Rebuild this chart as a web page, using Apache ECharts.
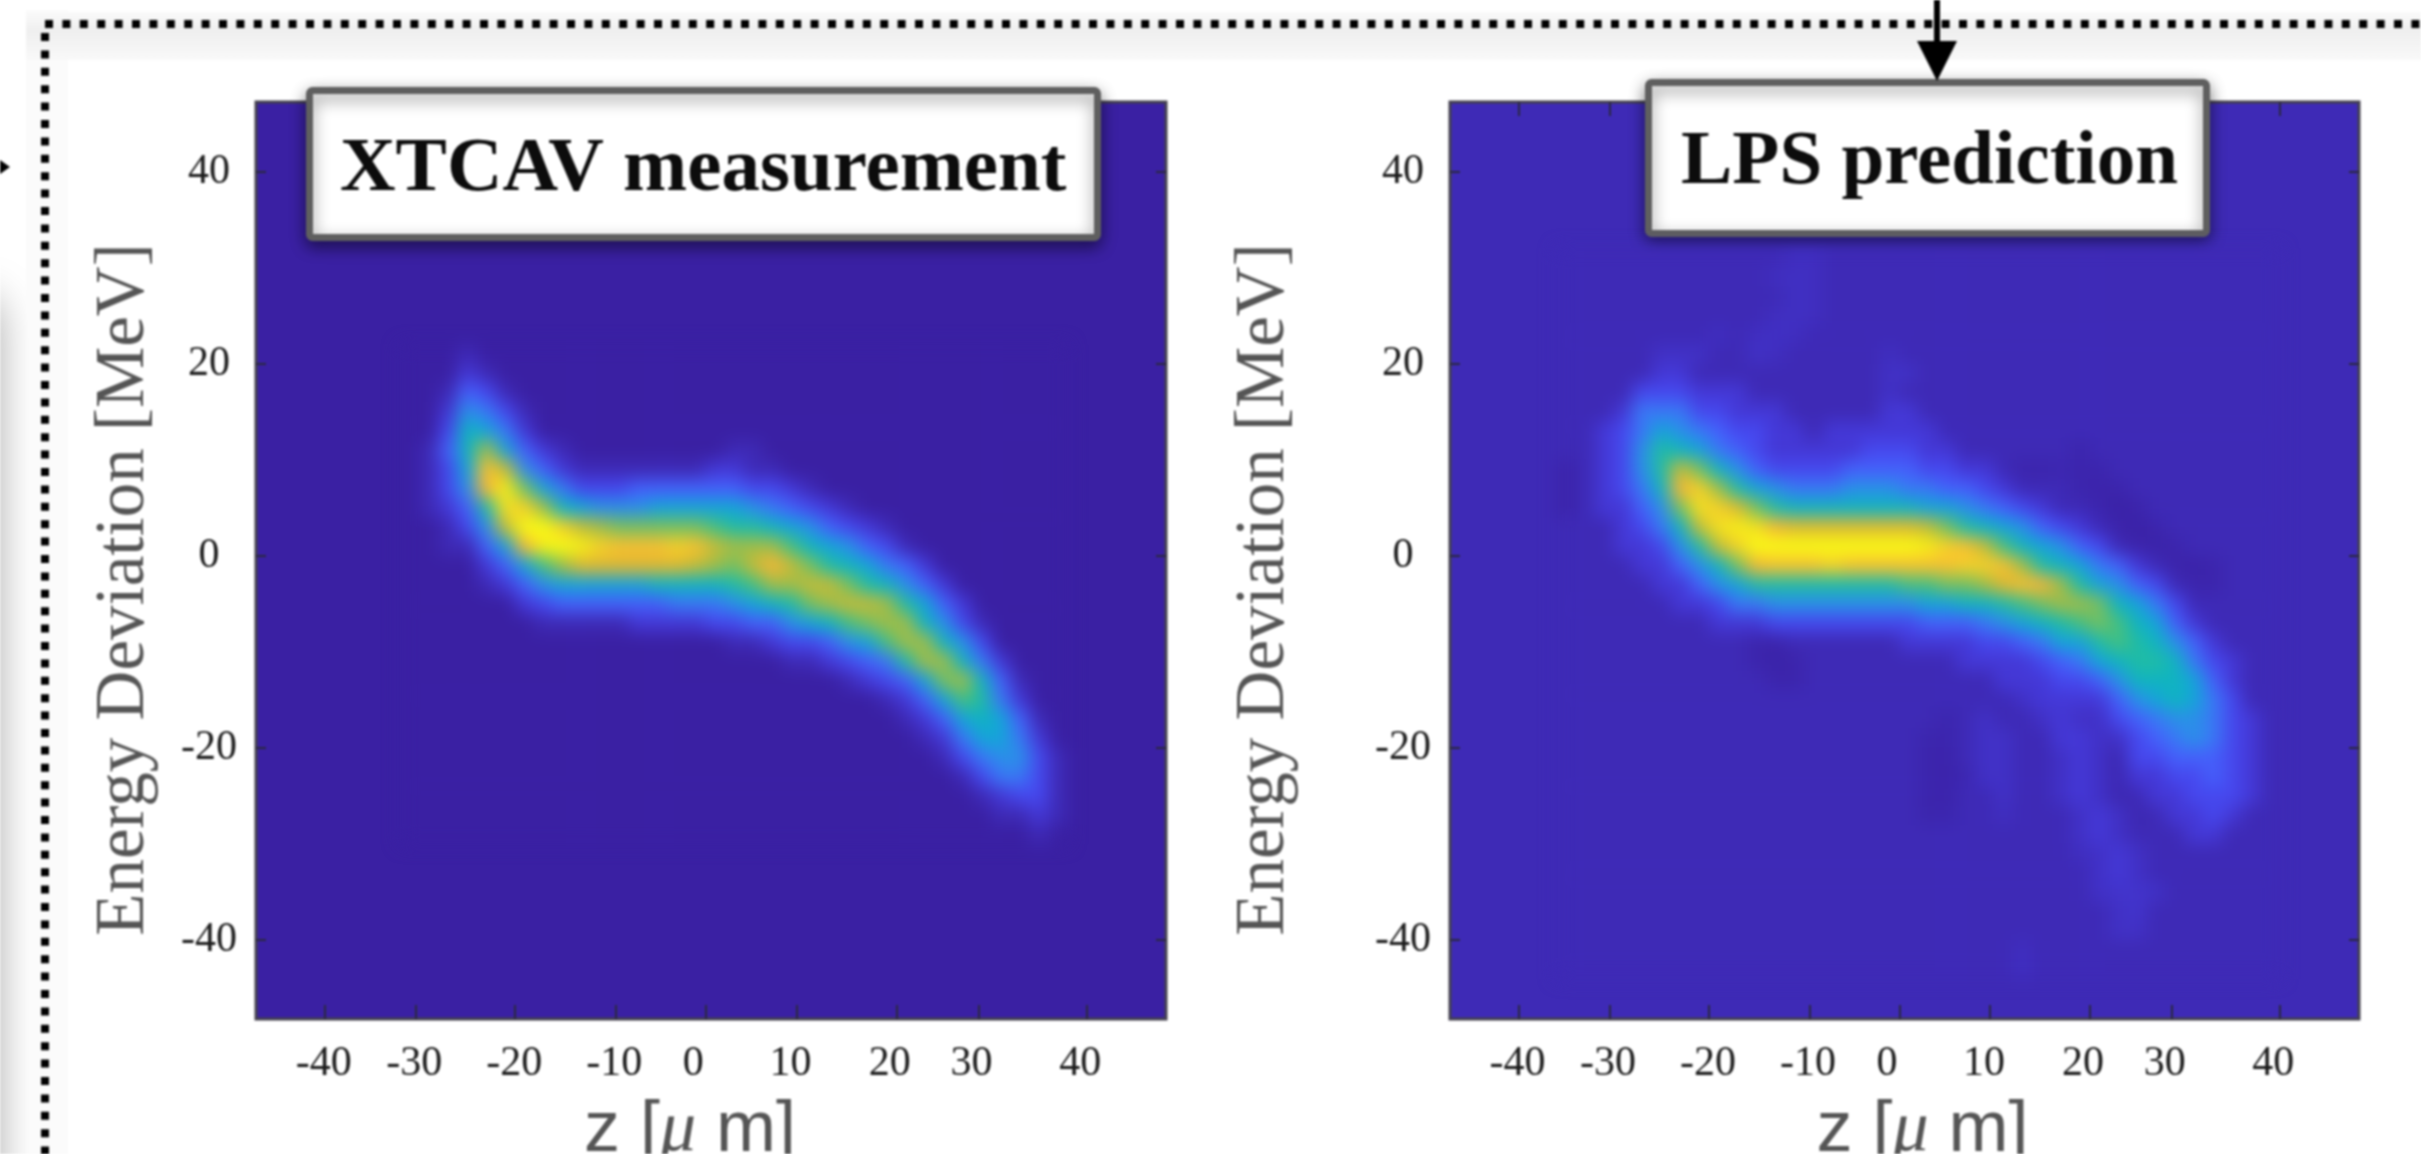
<!DOCTYPE html>
<html><head><meta charset="utf-8">
<script src="https://cdn.jsdelivr.net/npm/echarts@6/dist/echarts.min.js"></script>
<style>
html,body{margin:0;padding:0;background:#fff;overflow:hidden}
#main,#heat{position:absolute;left:0;top:0;width:2421px;height:1154px}
#main{filter:blur(0.9px)}
#heat{filter:blur(8.5px);pointer-events:none}
</style></head><body>
<div id="main"></div><div id="heat"></div>
<script>
// axis ticks: printed labels and where the ticks actually sit on the z axis
const zTickLabels = ['-40','-30','-20','-10','0','10','20','30','40'];
const zTickValues = [-40,-30.4,-20,-9.4,0,9.5,20,28.6,40];
const zLabelValues = [-40.1,-30.6,-20.1,-9.6,-1.3,8.9,19.3,27.9,39.3];
const eTickValues = [-40,-20,0,20,40];

// level scale, 0 (darkest) .. 20 (yellow)
const levelColors = ['#3a20a3','#3e2ab6','#4438d6','#4648ee','#4560fb','#3a78f5','#2a90e8','#15a5d8','#10b4c0','#20bca5','#45c080','#75c060','#a0bd48','#c4bb38','#e0b830','#f8b535','#f8c030','#f6d028','#f5e020','#f6ee18','#f8fa15'];

// XTCAV measurement panel
const xtcavZ = [-31,-29,-27,-25,-23,-21,-19,-17,-15,-13,-11,-9,-7,-5,-3,-1,1,3,5,7,9,11,13,15,17,19,21,23,25,27,29,31,33,35,37];
const xtcavE = [21,19,17,15,13,11,9,7,5,3,1,-1,-3,-5,-7,-9,-11,-13,-15,-17,-19,-21,-23,-25,-27,-29];
const xtcavLevels = [
[0,0,0,1,0,0,0,0,0,0,0,0,0,0,0,0,0,0,0,0,0,0,0,0,0,0,0,0,0,0,0,0,0,0,0],
[0,0,0,2,1,0,0,0,0,0,0,0,0,0,0,0,0,0,0,0,0,0,0,0,0,0,0,0,0,0,0,0,0,0,0],
[0,0,1,4,3,1,0,0,0,0,0,0,0,0,0,0,0,0,0,0,0,0,0,0,0,0,0,0,0,0,0,0,0,0,0],
[0,0,2,6,5,3,1,0,0,0,0,0,0,0,0,0,0,0,0,0,0,0,0,0,0,0,0,0,0,0,0,0,0,0,0],
[0,0,3,8,7,5,2,0,0,0,0,0,0,0,0,0,0,0,0,0,0,0,0,0,0,0,0,0,0,0,0,0,0,0,0],
[0,1,4,8,12,7,4,2,1,0,0,0,0,0,0,0,0,1,1,0,0,0,0,0,0,0,0,0,0,0,0,0,0,0,0],
[0,1,3,7,16,13,6,4,2,1,1,1,1,1,1,1,2,2,1,1,0,0,0,0,0,0,0,0,0,0,0,0,0,0,0],
[0,1,3,6,15,19,11,7,5,3,3,3,4,4,4,4,4,4,3,3,2,1,0,0,0,0,0,0,0,0,0,0,0,0,0],
[0,1,2,4,9,18,17,12,8,7,6,6,6,7,7,7,7,7,6,5,4,3,2,1,0,0,0,0,0,0,0,0,0,0,0],
[0,0,1,3,6,13,20,20,17,13,12,11,11,11,11,11,10,9,9,8,7,6,4,3,2,1,0,0,0,0,0,0,0,0,0],
[0,0,1,1,4,7,15,19,20,19,17,16,16,16,17,16,13,12,12,12,10,8,7,6,4,3,1,0,0,0,0,0,0,0,0],
[0,0,0,0,2,4,7,10,12,14,14,14,14,14,14,13,12,11,13,15,13,11,9,8,7,5,4,2,0,0,0,0,0,0,0],
[0,0,0,0,1,2,4,6,7,7,7,7,7,8,8,8,8,9,10,12,12,13,13,11,9,8,6,4,2,0,0,0,0,0,0],
[0,0,0,0,0,0,2,3,4,4,4,4,4,4,5,5,5,6,7,8,9,11,12,13,13,12,9,7,4,2,0,0,0,0,0],
[0,0,0,0,0,0,0,1,1,1,1,1,2,2,2,2,3,3,4,4,6,7,8,10,11,12,12,8,6,3,1,0,0,0,0],
[0,0,0,0,0,0,0,0,0,0,0,0,0,0,0,0,0,1,1,2,3,3,4,6,7,10,12,12,8,6,3,0,0,0,0],
[0,0,0,0,0,0,0,0,0,0,0,0,0,0,0,0,0,0,0,0,1,1,2,3,4,5,9,12,12,8,5,2,0,0,0],
[0,0,0,0,0,0,0,0,0,0,0,0,0,0,0,0,0,0,0,0,0,0,0,1,2,3,4,7,11,12,8,4,1,0,0],
[0,0,0,0,0,0,0,0,0,0,0,0,0,0,0,0,0,0,0,0,0,0,0,0,0,1,2,4,7,10,9,5,2,0,0],
[0,0,0,0,0,0,0,0,0,0,0,0,0,0,0,0,0,0,0,0,0,0,0,0,0,0,1,2,4,7,8,7,4,1,0],
[0,0,0,0,0,0,0,0,0,0,0,0,0,0,0,0,0,0,0,0,0,0,0,0,0,0,0,1,2,5,7,7,5,2,0],
[0,0,0,0,0,0,0,0,0,0,0,0,0,0,0,0,0,0,0,0,0,0,0,0,0,0,0,0,1,3,5,6,6,3,1],
[0,0,0,0,0,0,0,0,0,0,0,0,0,0,0,0,0,0,0,0,0,0,0,0,0,0,0,0,0,1,3,5,5,3,1],
[0,0,0,0,0,0,0,0,0,0,0,0,0,0,0,0,0,0,0,0,0,0,0,0,0,0,0,0,0,0,1,2,3,3,1],
[0,0,0,0,0,0,0,0,0,0,0,0,0,0,0,0,0,0,0,0,0,0,0,0,0,0,0,0,0,0,0,1,1,2,1],
[0,0,0,0,0,0,0,0,0,0,0,0,0,0,0,0,0,0,0,0,0,0,0,0,0,0,0,0,0,0,0,0,0,1,0]
];

// LPS prediction panel
const lpsZ = [-35,-33,-31,-29,-27,-25,-23,-21,-19,-17,-15,-13,-11,-9,-7,-5,-3,-1,1,3,5,7,9,11,13,15,17,19,21,23,25,27,29,31,33,35,37,39];
const lpsE = [31,29,27,25,23,21,19,17,15,13,11,9,7,5,3,1,-1,-3,-5,-7,-9,-11,-13,-15,-17,-19,-21,-23,-25,-27,-29,-31,-33,-35,-37,-39,-41,-43];
const lpsLevels = [
[1,1,1,1,1,1,1,1,1,1,1,1,1.3,1.3,1,1,1,1,1,1,1,1,1,1,1,1,1,1,1,1,1,1,1,1,1,1,1,1],
[1,1,1,1,1,1,1,1,1,1,1,1.3,1.4,1.3,1,1,1,1,1,1,1,1,1,1,1,1,1,1,1,1,1,1,1,1,1,1,1,1],
[1,1,1,1,1,1,1,1,1,1,1,1,1.4,1.3,1,1,1,1,1,1,1,1,1,1,1,1,1,1,1,1,1,1,1,1,1,1,1,1],
[1,1,1,1,1,1,1,1,1,1,1,1.3,1.4,1.3,1,1,1,1,1,1,1,1,1,1,1,1,1,1,1,1,1,1,1,1,1,1,1,1],
[1,1,1,1,1,1,1,1,1.3,1,1.3,1.4,1.3,1,1,1,1,1,1,1,1,1,1,1,1,1,1,1,1,1,1,1,1,1,1,1,1,1],
[1,1,1,1,1,1.5,1.5,1.5,1,1,1.5,1.3,1,1,1,1,1,1.3,1,1,1,1,1,1,1,1,1,1,1,1,1,1,1,1,1,1,1,1],
[1,1,1,1,1,2,2,1,1,1,1,1,1,1,1,1,1,1.5,1.5,1,1,1,1,1,1,1,1,1,1,1,1,1,1,1,1,1,1,1],
[1,1,1,1,3,3,3,2,2,2,1,1,1,1,1,1,1,1.5,1,1,1,1,1,1,1,1,1,1,1,1,1,1,1,1,1,1,1,1],
[1,1,1,2,5,5,5,3,3,2,2,2,1,1,1,1,1,2,2,1,1,1,1,1,1,1,1,1,1,1,1,1,1,1,1,1,1,1],
[1,1,2,3,5,7,6,5,4,3,3,2,2,1,2,2,2,2,2,2,1,1,1,1,1,1,1,1,1,1,1,1,1,1,1,1,1,1],
[1,1,2,3,6,9,8,7,5,4,3,2,2,2,2,2,3,3,3,2,2,1,1,1,1,1,1,0.5,1,1,1,1,1,1,1,1,1,1],
[0.4,1,2,3,6,9,13,11,8,6,4,3,3,3,3,4,4,4,4,3,3,2,2,1,0.5,0.5,0.7,0.5,0.5,1,1,1,1,1,1,1,1,1],
[0.4,1,2,3,5,8,15,17,12,9,7,6,5,5,5,6,6,6,5,5,4,4,3,2,1,1,1,0.5,0.4,0.5,1,1,1,1,1,1,1,1],
[0.4,1,2,2,4,6,11,18,17,14,11,9,8,8,8,8,8,8,8,7,7,6,5,4,3,2,1,1,0.5,0.2,0.4,1,1,1,1,1,1,1],
[1,1,1,2,3,5,8,13,18,19,18,15,14,14,14,14,14,14,14,13,11,9,8,7,6,4,3,2,1,0.4,0.2,0.5,1,1,1,1,1,1],
[1,1,1,2,2,3,6,9,13,17,20,20,20,20,20,20,20,20,20,19,17,16,13,10,8,7,6,4,3,1,0.4,0.3,0.5,1,1,1,1,1],
[1,1,1,1,2,2,4,6,8,11,15,16,16,16,17,16,16,16,16,16,16,17,17,16,12,9,8,7,5,4,2,1,0.4,0.3,0.5,1,1,1],
[1,1,1,1,1,2,2,4,6,7,9,9,9,9,9,9,9,9,10,10,11,11,12,14,16,15,12,9,7,6,4,3,1,0.5,0.5,1,1,1],
[1,1,1,1,1,1,2,2,3,5,5,6,6,6,6,6,6,6,6,7,7,8,8,9,10,11,12,12,11,8,7,5,3,1,1,1,1,1],
[1,1,1,1,1,1,1,1,2,2,2,3,3,3,3,3,3,3,3,4,4,4,5,6,7,8,9,10,11,10,8,7,4,2,1,1,1,1],
[1,1,1,1,1,1,1,1,1,1,0.5,0.4,1,1,1,1,1,1,2,2,2,2,3,3,4,5,7,7,9,10,9,8,6,4,2,1,1,1],
[1,1,1,1,1,1,1,1,1,1,0.5,0.3,0.4,1,1,1,1,1,1,1,1,2,2,2,2,3,4,5,7,8,9,9,8,5,3,2,1,1],
[1,1,1,1,1,1,1,1,1,1,1,0.5,0.5,1,1,1,1,1,1,1,1,1,1,2,2,2,3,3,4,6,8,8,8,7,4,2,1,1],
[1,1,1,1,1,1,1,1,1,1,1,1,1,1,1,1,1,1,1,1,1,1,1,1,1.5,2,2,2,2,4,6,7,8,7,5,3,1,1],
[1,1,1,1,1,1,1,1,1,1,1,1,1,1,1,1,1,1,1,1,0.6,1,1.5,1,1,1.5,2,1.5,1.5,3,4,5,6,6,5,3,2,1],
[1,1,1,1,1,1,1,1,1,1,1,1,1,1,1,1,1,1,1,0.6,0.5,1,1.5,1.5,1,1,2,2,1.5,1.5,3,4,5,6,5,3,2,1],
[1,1,1,1,1,1,1,1,1,1,1,1,1,1,1,1,1,1,1,0.5,0.4,1,1.5,1.5,1,1,1.5,2,1.5,0.8,3,3,4,4,4,3,2,1],
[1,1,1,1,1,1,1,1,1,1,1,1,1,1,1,1,1,1,1,0.5,0.4,0.7,1.5,1.5,1,1,1.5,2,1.5,0.8,2,2,3,3,4,3,2,1],
[1,1,1,1,1,1,1,1,1,1,1,1,1,1,1,1,1,1,1,0.5,0.4,1,1,1.5,1,1,1.5,2,1.5,0.8,1,2,2,3,3,3,2,1],
[1,1,1,1,1,1,1,1,1,1,1,1,1,1,1,1,1,1,1,0.6,0.6,1,1,1.3,1,1,1,1.5,2,1.5,0.8,1,2,2,3,2,1,1],
[1,1,1,1,1,1,1,1,1,1,1,1,1,1,1,1,1,1,1,1,1,1,1,1,1,1,1,1.5,2,1.5,1,1,1,2,2,1,1,1],
[1,1,1,1,1,1,1,1,1,1,1,1,1,1,1,1,1,1,1,1,1,1,1,1,1,1,1,1.3,1.5,2,1.5,1,1,1,1,1,1,1],
[1,1,1,1,1,1,1,1,1,1,1,1,1,1,1,1,1,1,1,1,1,1,1,1,1,1,1,1,1.5,2,1.5,1,1,1,1,1,1,1],
[1,1,1,1,1,1,1,1,1,1,1,1,1,1,1,1,1,1,1,1,1,1,1,1,1,1,1,1,1.5,1.7,1.7,1.5,1,1,1,1,1,1],
[1,1,1,1,1,1,1,1,1,1,1,1,1,1,1,1,1,1,1,1,1,1,1,1,1,1,1,1,1,1.5,1.7,1,1,1,1,1,1,1],
[1,1,1,1,1,1,1,1,1,1,1,1,1,1,1,1,1,1,1,1,1,1,1,1,1,1,1,1,1,1.5,1.5,1,1,1,1,1,1,1],
[1,1,1,1,1,1,1,1,1,1,1,1,1,1,1,1,1,1,1,1,1,1,1,1,1.3,1,1,1,1,1,1,1,1,1,1,1,1,1],
[1,1,1,1,1,1,1,1,1,1,1,1,1,1,1,1,1,1,1,1,1,1,1,1,1.3,1,1,1,1,1,1,1,1,1,1,1,1,1]
];

const Z_MIN=-47.2, Z_MAX=48.3, E_MIN=-48.2, E_MAX=47.25, CELL=2;
const SERIF='"Liberation Serif", serif', SANS='"Liberation Sans", sans-serif';

const main = echarts.init(document.getElementById('main'));
const grids = [
 {left:256,top:102,width:910,height:917,show:true,outerBoundsMode:'none',backgroundColor:levelColors[0],borderColor:'#44414f',borderWidth:3},
 {left:1450,top:102,width:909,height:917,show:true,outerBoundsMode:'none',backgroundColor:levelColors[1],borderColor:'#44414f',borderWidth:3}
];
function xAxis(g,pos,withLabels,titlePad){
  return {type:'value',gridIndex:g,position:pos,min:Z_MIN,max:Z_MAX,splitLine:{show:false},
    axisLine:{show:false,onZero:false},
    axisTick:{show:true,inside:true,length:14,customValues:zTickValues,lineStyle:{color:'#2a2840',width:2}},
    axisLabel:{show:withLabels,customValues:zLabelValues,margin:24,color:'#1c1c1c',fontFamily:SERIF,fontSize:42,
      formatter:v=>zTickLabels[zLabelValues.indexOf(v)]},
    name:withLabels?'{a|z [}{b|\u03bc}{a| m]}':'',nameLocation:'middle',nameGap:76,
    nameTextStyle:{padding:titlePad,rich:{a:{fontFamily:SANS,fontSize:72,color:'#555'},b:{fontFamily:SERIF,fontStyle:'italic',fontSize:72,color:'#555'}}}};
}
function yAxis(g,pos,withLabels,gap){
  return {type:'value',gridIndex:g,position:pos,min:E_MIN,max:E_MAX,splitLine:{show:false},
    axisLine:{show:false,onZero:false},
    axisTick:{show:true,inside:true,length:10,customValues:eTickValues,lineStyle:{color:'#2a2840',width:2}},
    axisLabel:{show:withLabels,customValues:eTickValues,margin:47,align:'center',color:'#1c1c1c',fontFamily:SERIF,fontSize:42},
    name:withLabels?'Energy Deviation [MeV]':'',nameLocation:'middle',nameGap:gap,
    nameTextStyle:{fontFamily:SERIF,fontSize:69,color:'#555',padding:[0,58,0,0]}};
}
function box(x,y,w,h,label,tx,ty,size){
  return [{type:'rect',z:50,left:x,top:y,shape:{width:w,height:h,r:3},
      style:{fill:'#fff',stroke:'#5f5f5f',lineWidth:7,shadowBlur:16,shadowOffsetY:6,shadowColor:'rgba(0,0,0,0.45)'}},
    {type:'text',z:51,left:tx,top:ty,style:{text:label,font:'bold '+size+'px '+SERIF,fill:'#0c0c0c'}}];
}
const dotted={stroke:'#000',lineWidth:8,lineDash:[8,9.4]};
main.setOption({
  animation:false,backgroundColor:'#fff',
  grid:grids,
  xAxis:[xAxis(0,'bottom',true,[0,42,0,0]),xAxis(0,'top',false),xAxis(1,'bottom',true,[0,0,0,36]),xAxis(1,'top',false)],
  yAxis:[yAxis(0,'left',true,97),yAxis(0,'right',false),yAxis(1,'left',true,151),yAxis(1,'right',false)],
  series:[
    {type:'scatter',xAxisIndex:0,yAxisIndex:0,data:[],silent:true},
    {type:'scatter',xAxisIndex:2,yAxisIndex:2,data:[],silent:true}
  ],
  graphic:[
    {type:'rect',z:-10,left:-44,top:300,shape:{width:40,height:1000},style:{fill:'#bbb',shadowBlur:44,shadowColor:'rgba(0,0,0,0.4)'}},
    {type:'rect',z:-9,left:26,top:10,shape:{width:42,height:1144},style:{fill:'#fafafa',opacity:0.85}},
    {type:'rect',z:-8,left:26,top:12,shape:{width:2395,height:48},style:{fill:{type:'linear',x:0,y:0,x2:0,y2:1,colorStops:[{offset:0,color:'#fafafa'},{offset:0.4,color:'#efefef'},{offset:1,color:'#f9f9f9'}]}}},
    {type:'line',z:20,shape:{x1:45,y1:24,x2:2421,y2:24},style:dotted},
    {type:'line',z:20,shape:{x1:45,y1:33,x2:45,y2:1154},style:dotted},
    {type:'polygon',z:20,shape:{points:[[0,160],[10,167],[0,174]]},style:{fill:'#000'}},
    {type:'line',z:60,shape:{x1:1937,y1:0,x2:1937,y2:45},style:{stroke:'#000',lineWidth:6}},
    {type:'polygon',z:60,shape:{points:[[1917,41],[1957,41],[1937,81]]},style:{fill:'#000'}},
    ...box(306,87,788,147,'XTCAV measurement',340,132,77),
    ...box(1645,79,558,151,'LPS prediction',1681,125,77)
  ]
});

// colour cells go on a second, softened layer registered to the same axes
function cellData(levels){const d=[];levels.forEach((r,j)=>r.forEach((v,i)=>d.push([i,j,v])));return d;}
function heatGrid(gridIdx,zs,es){
  const a=main.convertToPixel({xAxisIndex:gridIdx*2,yAxisIndex:gridIdx*2},[zs[0]-CELL/2,es[0]+CELL/2]);
  const b=main.convertToPixel({xAxisIndex:gridIdx*2,yAxisIndex:gridIdx*2},[zs[zs.length-1]+CELL/2,es[es.length-1]-CELL/2]);
  return {left:a[0],top:a[1],width:b[0]-a[0],height:b[1]-a[1],show:false,outerBoundsMode:'none'};
}
const heat = echarts.init(document.getElementById('heat'),null,{renderer:'canvas'});
heat.setOption({
  animation:false,backgroundColor:'transparent',
  grid:[heatGrid(0,xtcavZ,xtcavE),heatGrid(1,lpsZ,lpsE)],
  xAxis:[{type:'category',gridIndex:0,data:xtcavZ,show:false},{type:'category',gridIndex:1,data:lpsZ,show:false}],
  yAxis:[{type:'category',gridIndex:0,data:xtcavE,inverse:true,show:false},{type:'category',gridIndex:1,data:lpsE,inverse:true,show:false}],
  visualMap:{type:'continuous',show:false,min:0,max:20,seriesIndex:[0,1],inRange:{color:levelColors}},
  series:[
    {type:'heatmap',name:'XTCAV measurement',xAxisIndex:0,yAxisIndex:0,data:cellData(xtcavLevels),silent:true,progressive:0},
    {type:'heatmap',name:'LPS prediction',xAxisIndex:1,yAxisIndex:1,data:cellData(lpsLevels),silent:true,progressive:0}
  ]
});
</script></body></html>
